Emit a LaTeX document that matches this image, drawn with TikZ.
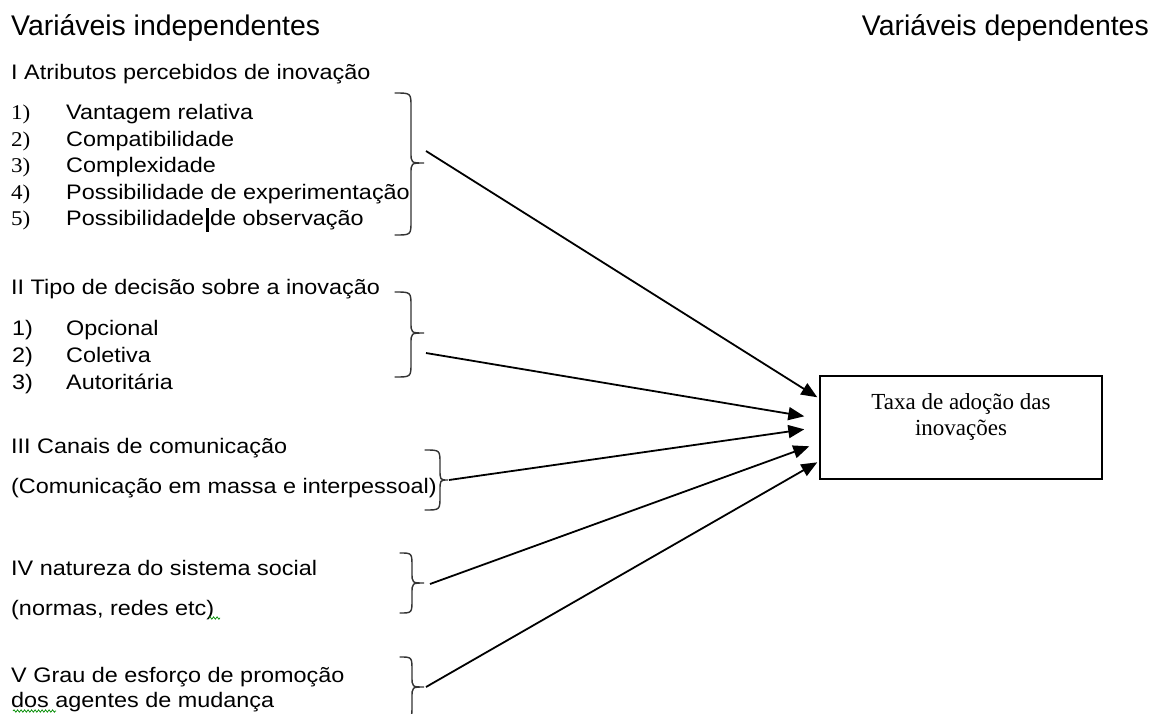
\documentclass[tikz,border=0pt]{standalone}
\usepackage{fontspec}
\setmainfont{Liberation Sans}
\newfontfamily\bodyfont{Liberation Sans}[FakeStretch=1.115]
\newfontfamily\numfont{Liberation Serif}[FakeStretch=1.1]
\newfontfamily\boxfont{Liberation Serif}
\usetikzlibrary{arrows.meta,decorations.pathmorphing}

% right-hand curly brace: x of hooks, x of spine, x of tip, top, tip, bottom
\newcommand\curlybrace[6]{%
  \draw[bracestyle] (#1,#4) .. controls (#2,#4) .. (#2,#4+14)
    -- (#2,#5-11) .. controls (#2,#5) .. (#3,#5)
    .. controls (#2,#5) .. (#2,#5+11)
    -- (#2,#6-14) .. controls (#2,#6) .. (#1,#6);}

\begin{document}
\begin{tikzpicture}[x=1pt,y=-1pt,
  heading/.style={inner sep=0pt,font=\fontsize{28.4}{31}\selectfont},
  txt/.style={inner sep=0pt,anchor=base west,font=\bodyfont\fontsize{21}{24}\selectfont},
  num/.style={inner sep=0pt,anchor=base west,font=\numfont\fontsize{21}{24}\selectfont},
  snum/.style={inner sep=0pt,anchor=base west,font=\bodyfont\fontsize{21}{24}\selectfont},
  bracestyle/.style={line width=1.4pt,draw=black!80,line cap=round},
  flow/.style={line width=1.8pt,-{Triangle[length=16pt,width=13pt]}},
  outbox/.style={draw,line width=1.4pt,minimum width=282pt,minimum height=103pt,inner sep=0pt},
  squiggle/.style={draw=green!55!black,line width=0.7pt,decorate,
    decoration={snake,amplitude=1.2pt,segment length=3.5pt}}]
\useasboundingbox[fill=white] (0,0) rectangle (1160,713);

% column headings
\node[heading,anchor=base west] (hInd) at (11,35) {Variáveis independentes};
\node[heading,anchor=base east] (hDep) at (1149,35) {Variáveis dependentes};

% I
\node[txt] (g1) at (11,79) {I Atributos percebidos de inovação};
\node[num] (n11) at (11,119.5) {1)};
\node[txt] (i11) at (66,119.5) {Vantagem relativa};
\node[num] (n12) at (11,146) {2)};
\node[txt] (i12) at (66,146) {Compatibilidade};
\node[num] (n13) at (11,172.5) {3)};
\node[txt] (i13) at (66,172.5) {Complexidade};
\node[num] (n14) at (11,199) {4)};
\node[txt] (i14) at (66,199) {Possibilidade de experimentação};
\node[num] (n15) at (11,225.5) {5)};
\node[txt] (i15) at (66,225.5) {Possibilidade\hspace{1.6pt}\rule[-6pt]{2.8pt}{24pt}\hspace{1.6pt}de observação};

% II
\node[txt] (g2) at (11,294) {II Tipo de decisão sobre a inovação};
\node[snum] (n21) at (12,335) {1)};
\node[txt] (i21) at (66,335) {Opcional};
\node[snum] (n22) at (12,362) {2)};
\node[txt] (i22) at (66,362) {Coletiva};
\node[snum] (n23) at (12,389) {3)};
\node[txt] (i23) at (66,389) {Autoritária};

% III
\node[txt] (g3) at (11,453) {III Canais de comunicação};
\node[txt] (g3b) at (11,493) {(Comunicação em massa e interpessoal)};

% IV
\node[txt] (g4) at (11,575) {IV natureza do sistema social};
\node[txt] (g4b) at (11,615) {(normas, redes etc)};

% V
\node[txt] (g5) at (11,682) {V Grau de esforço de promoção};
\node[txt] (g5b) at (11,707) {dos agentes de mudança};

% spell-check marks
\draw[squiggle] (209,618) -- (220,618);
\draw[squiggle] (13,711) -- (56,711);

% braces
\curlybrace{395}{411}{424}{93}{163}{235}
\curlybrace{395}{411}{424}{292}{333}{377}
\curlybrace{425}{440}{448}{450}{480}{510}
\curlybrace{400}{412}{424}{553}{583}{613}
\curlybrace{400}{412}{424}{657}{687}{719}

% dependent variable
\node[outbox] (box) at (961,427.5) {};
\node[inner sep=0pt,align=center,font=\boxfont\fontsize{23}{26}\selectfont,anchor=north]
  (boxtxt) at ([yshift=-18pt]box.north) {Taxa de adoção das\\inovações};

% arrow start points next to the braces
\coordinate (s1) at (426,151);
\coordinate (s2) at (426,353);
\coordinate (s3) at (449,480);
\coordinate (s4) at (430,584);
\coordinate (s5) at (426,687);

% arrow end points along the left side of the box
\coordinate (t1) at ([shift={(-2,22)}]box.north west);
\coordinate (t2) at ([shift={(-15,41)}]box.north west);
\coordinate (t3) at ([shift={(-15,54)}]box.north west);
\coordinate (t4) at ([shift={(-10,71)}]box.north west);
\coordinate (t5) at ([shift={(-2,87)}]box.north west);

\draw[flow] (s1) -- (t1);
\draw[flow] (s2) -- (t2);
\draw[flow] (s3) -- (t3);
\draw[flow] (s4) -- (t4);
\draw[flow] (s5) -- (t5);
\end{tikzpicture}
\end{document}
